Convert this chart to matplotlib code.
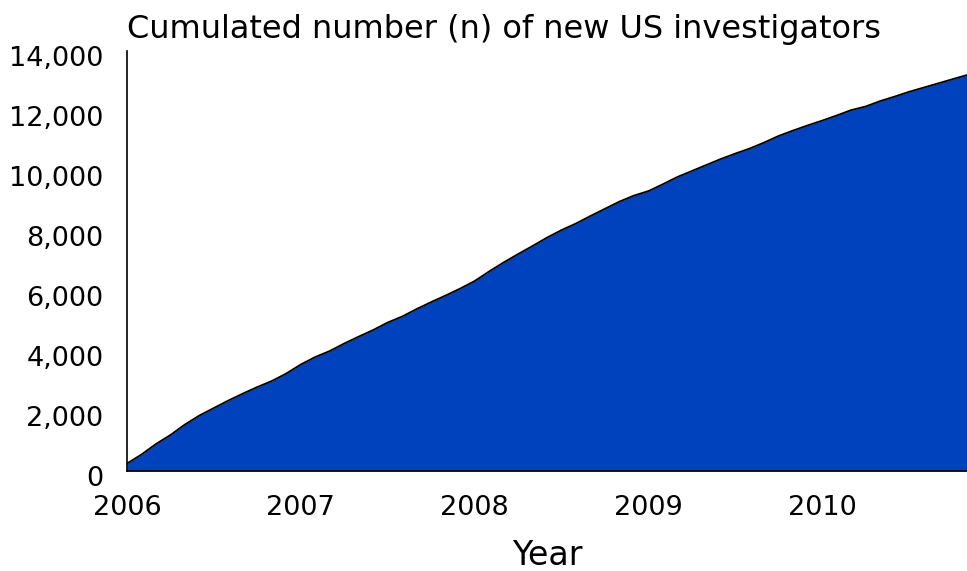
import numpy as np
import matplotlib.pyplot as plt
from matplotlib.transforms import ScaledTranslation

# cumulated new US investigators, monthly from Jan 2006
months = np.arange(59)
cumulated = [250, 550, 900, 1200, 1550, 1850, 2100, 2350, 2580, 2800,
             3000, 3250, 3550, 3800, 4000, 4250, 4480, 4700, 4950, 5150,
             5400, 5630, 5850, 6080, 6330, 6650, 6950, 7230, 7500, 7780,
             8030, 8250, 8500, 8740, 8980, 9180, 9330, 9560, 9800, 10000,
             10200, 10400, 10580, 10750, 10950, 11170, 11350, 11520, 11680, 11850,
             12030, 12150, 12330, 12480, 12640, 12780, 12920, 13060, 13200]
year_labels = ['2006', '2007', '2008', '2009', '2010']
year_ticks = [0, 12, 24, 36, 48]
y_ticks = np.arange(0, 14001, 2000)

fig = plt.figure(figsize=(9.67, 5.71), dpi=100)
ax = fig.add_axes([0.1313, 0.1751, 0.8687, 0.7356])

ax.fill_between(months, cumulated, 0, color='#0041BE', linewidth=0)
ax.plot(months, cumulated, color='black', linewidth=1.3)

ax.set_xlim(0, months[-1])
ax.set_ylim(0, 14000)
ax.set_xticks(year_ticks)
ax.set_xticklabels(year_labels)
ax.set_yticks(y_ticks)
ax.set_yticklabels([f'{v:,}' for v in y_ticks])
ax.tick_params(axis='both', length=0, labelsize=19.5)
ax.tick_params(axis='y', pad=17)
ax.tick_params(axis='x', pad=17)

# y labels sit a little below their tick positions in the original
offset = ScaledTranslation(0, -5 / 100, fig.dpi_scale_trans)
for lab in ax.get_yticklabels():
    lab.set_transform(lab.get_transform() + offset)

for side in ['top', 'right']:
    ax.spines[side].set_visible(False)
ax.spines['left'].set_linewidth(1.2)
ax.spines['bottom'].set_linewidth(1.2)

ax.set_title('Cumulated number (n) of new US investigators', fontsize=23,
             loc='left', pad=9)
ax.set_xlabel('Year', fontsize=24, labelpad=13)

fig.savefig('out.png', dpi=100)
